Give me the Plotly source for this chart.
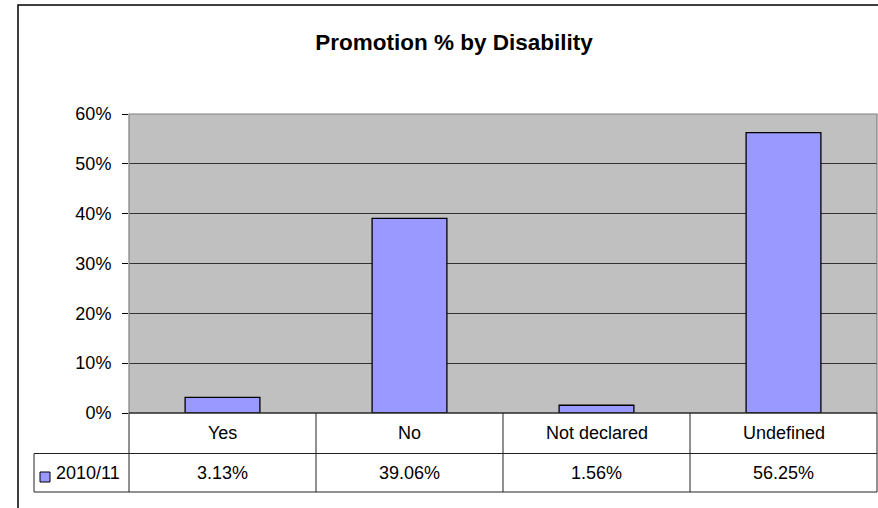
import plotly.graph_objects as go

categories = ["Yes", "No", "Not declared", "Undefined"]
values = [0.0313, 0.3906, 0.0156, 0.5625]
value_labels = ["3.13%", "39.06%", "1.56%", "56.25%"]
series_name = "2010/11"
y_ticks = [0, 0.1, 0.2, 0.3, 0.4, 0.5, 0.6]

BAR = "#9999FF"
FONT = "Liberation Sans, Arial, sans-serif"
W, H = 878, 508
PL, PR, PT, PB = 129, 877, 114, 413
L, T = PL, PT
R = W - PR
B = H - PB
PW, PH = PR - PL, PB - PT


def px(xp):
    return (xp - PL) / PW


def py(yp):
    return (PB - yp) / PH


fig = go.Figure()
fig.add_trace(go.Bar(
    x=categories, y=values, name=series_name,
    marker=dict(color=BAR, line=dict(color="black", width=1.3)),
    width=0.4, showlegend=False, hoverinfo="skip",
))

shapes = []
ann = []
n = len(categories)
line_c = "#222222"

shapes.append(dict(type="rect", xref="paper", yref="paper", x0=0, x1=1, y0=0, y1=1,
                   line=dict(color="#808080", width=1.2), layer="above"))
shapes.append(dict(type="line", xref="paper", yref="paper", x0=0, x1=1, y0=0, y1=0,
                   line=dict(color="black", width=1.2), layer="above"))

r1_top, r1_bot, r2_bot = 0, py(453.5), py(492)
leg_left = px(34)
shapes.append(dict(type="line", xref="paper", yref="paper", x0=leg_left, x1=1, y0=r1_bot, y1=r1_bot,
                   line=dict(color=line_c, width=1)))
shapes.append(dict(type="line", xref="paper", yref="paper", x0=leg_left, x1=1, y0=r2_bot, y1=r2_bot,
                   line=dict(color=line_c, width=1)))
shapes.append(dict(type="line", xref="paper", yref="paper", x0=leg_left, x1=leg_left, y0=r1_bot, y1=r2_bot,
                   line=dict(color=line_c, width=1)))
for i in range(n + 1):
    xb = i / n
    shapes.append(dict(type="line", xref="paper", yref="paper", x0=xb, x1=xb, y0=r1_top, y1=r2_bot,
                       line=dict(color=line_c, width=1)))

for c, v in zip(categories, value_labels):
    ann.append(dict(x=c, xref="x", y=(r1_top + r1_bot) / 2, yref="paper", text=c, showarrow=False,
                    font=dict(family=FONT, size=18, color="black"), xanchor="center", yanchor="middle"))
    ann.append(dict(x=c, xref="x", y=(r1_bot + r2_bot) / 2, yref="paper", text=v, showarrow=False,
                    font=dict(family=FONT, size=18, color="black"), xanchor="center", yanchor="middle"))

shapes.append(dict(type="rect", xref="paper", yref="paper", x0=px(40), x1=px(50), y0=py(482), y1=py(472),
                   fillcolor=BAR, line=dict(color="black", width=1)))
ann.append(dict(x=px(54), xref="paper", y=(r1_bot + r2_bot) / 2, yref="paper", text=series_name,
                showarrow=False, font=dict(family=FONT, size=18, color="black"),
                xanchor="left", yanchor="middle"))

shapes.append(dict(type="rect", xref="paper", yref="paper", x0=px(18), x1=px(884), y0=py(520), y1=py(5),
                   line=dict(color="black", width=1.5)))

fig.update_layout(
    width=W, height=H,
    margin=dict(l=L, r=R, t=T, b=B, pad=0),
    paper_bgcolor="white", plot_bgcolor="#C0C0C0",
    title=dict(text="<b>Promotion % by Disability</b>", xref="container", yref="container",
               x=454 / W, y=1 - 42 / H, xanchor="center", yanchor="middle",
               font=dict(family=FONT, size=22.5, color="black")),
    xaxis=dict(showticklabels=False, showgrid=False, ticks="", zeroline=False,
               range=[-0.5, n - 0.5], fixedrange=True),
    yaxis=dict(range=[0, 0.6], tickvals=y_ticks, tickformat=".0%", showgrid=True,
               gridcolor="#333333", gridwidth=1, zeroline=False, ticks="outside", ticklen=6,
               tickcolor="black", tickfont=dict(family=FONT, size=18, color="black"),
               ticklabelstandoff=7, fixedrange=True),
    shapes=shapes, annotations=ann, bargap=0.6,
    font=dict(family=FONT),
    hovermode=False,
)

fig.write_html("out.html", config={"displayModeBar": False},
               post_script="document.body.style.margin='0';")
